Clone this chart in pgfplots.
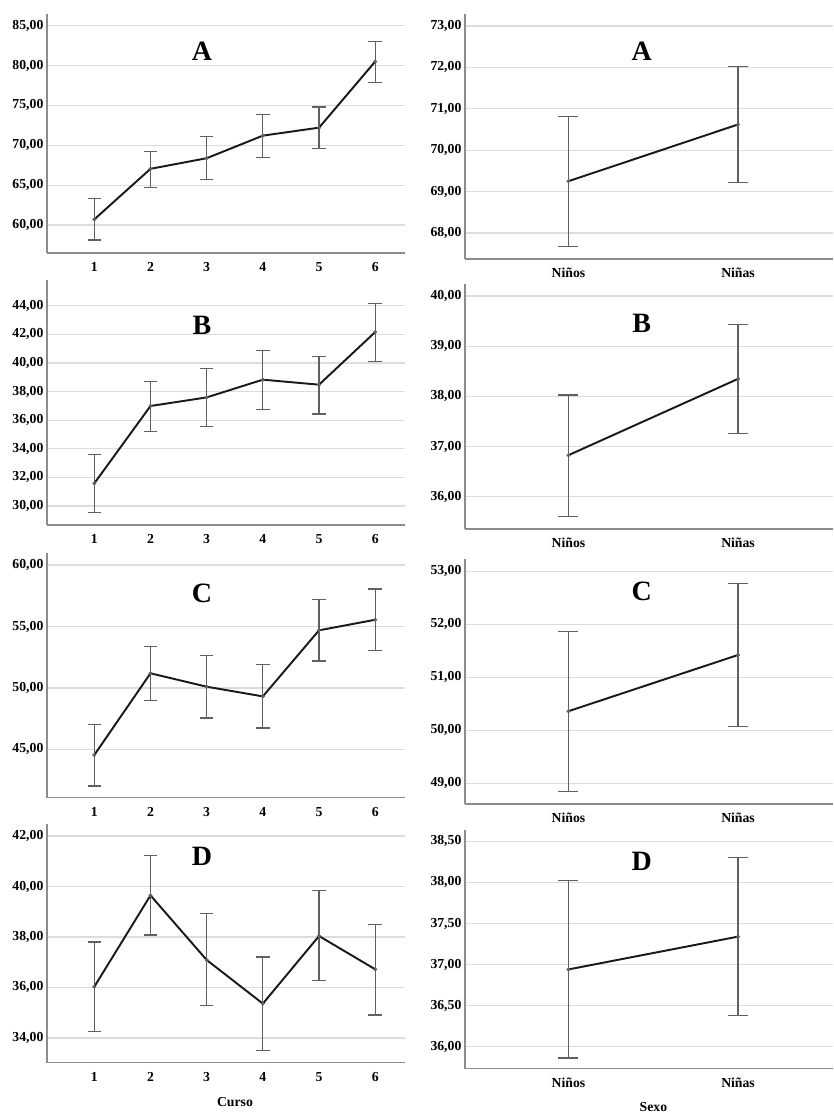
\documentclass[border=0pt]{standalone}
\usepackage{pgfplots}
\usepackage{pgfplotstable}
\usepackage{fontspec}
\setmainfont{Liberation Serif}
\pgfplotsset{compat=1.18}

% x  mean  err+  err-
\pgfplotstableread{
x y ep em
1 60.71 2.59 2.59
2 67.05 2.20 2.34
3 68.38 2.71 2.67
4 71.21 2.67 2.71
5 72.21 2.59 2.62
6 80.50 2.55 2.58
}\cursoA
\pgfplotstableread{
x y ep em
1 69.25 1.56 1.58
2 70.62 1.41 1.40
}\sexoA
\pgfplotstableread{
x y ep em
1 31.58 2.03 2.03
2 36.99 1.74 1.80
3 37.59 2.05 2.05
4 38.83 2.07 2.10
5 38.48 2.00 2.05
6 42.16 1.98 2.03
}\cursoB
\pgfplotstableread{
x y ep em
1 36.83 1.20 1.22
2 38.35 1.09 1.09
}\sexoB
\pgfplotstableread{
x y ep em
1 44.54 2.50 2.52
2 51.19 2.16 2.23
3 50.10 2.55 2.55
4 49.31 2.61 2.57
5 54.69 2.49 2.50
6 55.55 2.50 2.49
}\cursoC
\pgfplotstableread{
x y ep em
1 50.36 1.51 1.52
2 51.42 1.35 1.35
}\sexoC
\pgfplotstableread{
x y ep em
1 36.03 1.77 1.78
2 39.65 1.59 1.57
3 37.09 1.85 1.80
4 35.36 1.85 1.85
5 38.04 1.79 1.78
6 36.72 1.77 1.81
}\cursoD
\pgfplotstableread{
x y ep em
1 36.94 1.08 1.08
2 37.34 0.96 0.96
}\sexoD

\definecolor{axgray}{HTML}{8C8C8C}
\definecolor{gridgray}{HTML}{DCDCDC}
\definecolor{errgray}{HTML}{606060}

\tikzset{letter/.style={font=\bfseries\fontsize{21}{22}\selectfont}}

\pgfplotsset{
  /pgf/number format/assume math mode=true,
  base/.style={
    scale only axis,
    anchor=south west,
    axis x line=bottom, axis y line=left,
    axis line style={-, draw=axgray, line width=0.9pt},
    major tick length=0pt,
    ymajorgrids,
    grid style={draw=gridgray, line width=0.9pt},
    tick label style={font=\bfseries\fontsize{10.3}{12}\selectfont},
    yticklabel style={inner sep=0pt, xshift=-2.5pt, /pgf/number format/.cd, fixed, fixed zerofill, precision=2, use comma},
    xticklabel style={anchor=base, inner sep=0pt, yshift=-13.8pt},
    clip=false,
  },
  curso/.style={base, width=268.5pt, xmin=0.158, xmax=6.53, xtick={1,2,3,4,5,6}},
  sexo/.style={base, width=276pt, xmin=0.39, xmax=2.56, xtick={1,2}, xticklabels={Niños,Niñas}},
  meanline/.style={black!90, line width=1.45pt, mark=*, mark size=1.3pt,
    mark options={fill=errgray, draw=errgray, line width=0.4pt},
    error bars/.cd, y dir=both, y explicit,
    error bar style={draw=errgray, line width=0.85pt},
    error mark options={draw=errgray, line width=0.85pt, rotate=90, mark size=#1}},
}

\begin{document}
\begin{tikzpicture}
\path[use as bounding box] (0,0) rectangle (624.75pt,834pt);

% Row 1
\begin{axis}[curso, at={(35.25pt,644.25pt)}, height=179.25pt,
  ymin=56.5, ymax=86.46, ytick={60,65,70,75,80,85}]
\addplot[meanline=5.1pt] table[x=x, y=y, y error plus=ep, y error minus=em] {\cursoA};
\node[letter] at (rel axis cs:0.433,0.842) {A};
\end{axis}
\begin{axis}[sexo, at={(348.75pt,639.75pt)}, height=183.75pt,
  ymin=67.37, ymax=73.29, ytick={68,69,70,71,72,73}]
\addplot[meanline=7.5pt] table[x=x, y=y, y error plus=ep, y error minus=em] {\sexoA};
\node[letter] at (rel axis cs:0.48,0.846) {A};
\end{axis}

% Row 2
\begin{axis}[curso, at={(35.25pt,440.25pt)}, height=183.75pt,
  ymin=28.67, ymax=45.8, ytick={30,32,34,36,38,40,42,44}]
\addplot[meanline=5.1pt] table[x=x, y=y, y error plus=ep, y error minus=em] {\cursoB};
\node[letter] at (rel axis cs:0.433,0.816) {B};
\end{axis}
\begin{axis}[sexo, at={(348.75pt,437.25pt)}, height=183.75pt,
  ymin=35.36, ymax=40.24, ytick={36,37,38,39,40}]
\addplot[meanline=7.5pt] table[x=x, y=y, y error plus=ep, y error minus=em] {\sexoB};
\node[letter] at (rel axis cs:0.48,0.84) {B};
\end{axis}

% Row 3
\begin{axis}[curso, at={(35.25pt,235.7pt)}, height=183.5pt,
  ymin=41.06, ymax=60.98, ytick={45,50,55,60}]
\addplot[meanline=5.1pt] table[x=x, y=y, y error plus=ep, y error minus=em] {\cursoC};
\node[letter] at (rel axis cs:0.433,0.835) {C};
\end{axis}
\begin{axis}[sexo, at={(348.75pt,231pt)}, height=183.75pt,
  ymin=48.61, ymax=53.23, ytick={49,50,51,52,53}]
\addplot[meanline=7.5pt] table[x=x, y=y, y error plus=ep, y error minus=em] {\sexoC};
\node[letter] at (rel axis cs:0.48,0.867) {C};
\end{axis}

% Row 4
\begin{axis}[curso, at={(35.25pt,37pt)}, height=179pt,
  ymin=33.02, ymax=42.48, ytick={34,36,38,40,42},
  xlabel={Curso},
  xlabel style={font=\bfseries\fontsize{10.3}{12}\selectfont, at={(rel axis cs:0.525,0)}, anchor=center, yshift=-29.2pt}]
\addplot[meanline=5.1pt] table[x=x, y=y, y error plus=ep, y error minus=em] {\cursoD};
\node[letter] at (rel axis cs:0.433,0.863) {D};
\end{axis}
\begin{axis}[sexo, at={(348.75pt,32.5pt)}, height=179pt,
  ymin=35.73, ymax=38.64, ytick={36,36.5,37,37.5,38,38.5},
  xlabel={Sexo},
  xlabel style={font=\bfseries\fontsize{10.3}{12}\selectfont, at={(rel axis cs:0.512,0)}, anchor=center, yshift=-28.5pt}]
\addplot[meanline=7.5pt] table[x=x, y=y, y error plus=ep, y error minus=em] {\sexoD};
\node[letter] at (rel axis cs:0.48,0.867) {D};
\end{axis}
\end{tikzpicture}
\end{document}
